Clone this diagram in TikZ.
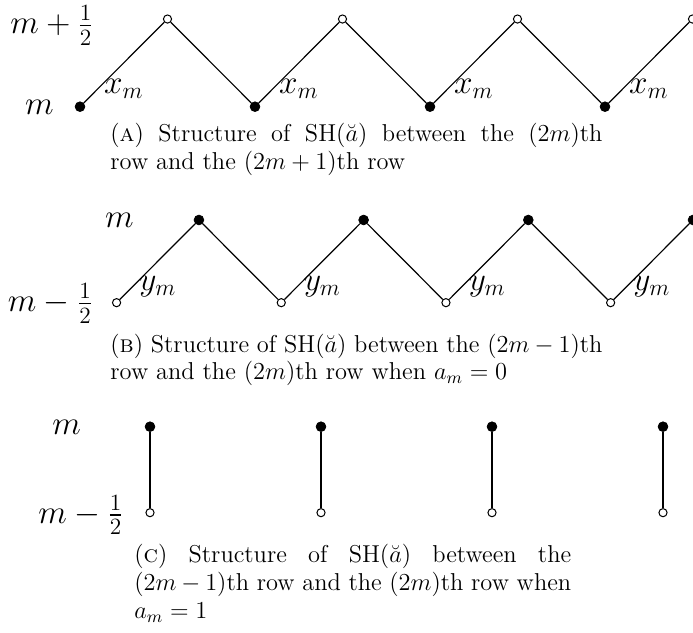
\RequirePackage{fix-cm}
\documentclass[tikz,border=0pt]{standalone}
\usepackage{amsmath}
\usepackage{amssymb}
\usetikzlibrary{calc, positioning}
\binoppenalty=10000

\begin{document}
\begin{tikzpicture}[
  fdot/.style={circle,fill=black,draw=black,inner sep=0pt,minimum size=0.185cm},
  odot/.style={circle,fill=white,draw=black,line width=0.55pt,inner sep=0pt,minimum size=0.155cm},
  zig/.style={line width=0.65pt},
  lab/.style={font=\fontsize{18}{21}\selectfont},
  rowlab/.style={lab,inner sep=1pt},
  capbox/.style={anchor=north west,inner sep=0pt,align=justify,font=\fontsize{13.2}{15}\selectfont}
]
\useasboundingbox (0,0) rectangle (13.167,12.027);

% (a) rows 2m and 2m+1
\node[fdot] (AbOne) at (1.52,10.00) {};
\node[fdot] (AbTwo) at (4.845,10.00) {};
\node[fdot] (AbThree) at (8.17,10.00) {};
\node[fdot] (AbFour) at (11.495,10.00) {};
\node[odot] (AtOne) at (3.1825,11.665) {};
\node[odot] (AtTwo) at (6.5075,11.665) {};
\node[odot] (AtThree) at (9.8325,11.665) {};
\node[odot] (AtFour) at (13.1575,11.665) {};
\draw[zig] (AbOne) -- node[lab,pos=0.17,right] (xOne) {$x_m$} (AtOne) -- (AbTwo)
  -- node[lab,pos=0.17,right] (xTwo) {$x_m$} (AtTwo) -- (AbThree)
  -- node[lab,pos=0.17,right] (xThree) {$x_m$} (AtThree) -- (AbFour)
  -- node[lab,pos=0.17,right] (xFour) {$x_m$} (AtFour);
\node[rowlab] (rowAup) at (0.988,11.54) {$m+\frac{1}{2}$};
\node[rowlab] (rowA) at (0.75,9.994) {$m$};
\node[capbox,text width=9.35cm] (capA) at (2.09,9.697)
  {(\textsc{a}) Structure of SH($\breve{a}$) between the $(2m)$th\linebreak row and the $(2m+1)$th row};

% (b) rows 2m-1 and 2m, a_m=0
\node[odot] (BbOne) at (2.215,6.276) {};
\node[odot] (BbTwo) at (5.344,6.276) {};
\node[odot] (BbThree) at (8.473,6.276) {};
\node[odot] (BbFour) at (11.602,6.276) {};
\node[fdot] (BtOne) at (3.780,7.847) {};
\node[fdot] (BtTwo) at (6.909,7.847) {};
\node[fdot] (BtThree) at (10.038,7.847) {};
\node[fdot] (BtFour) at (13.167,7.847) {};
\draw[zig] (BbOne) -- node[lab,pos=0.17,right] (yOne) {$y_m$} (BtOne) -- (BbTwo)
  -- node[lab,pos=0.17,right] (yTwo) {$y_m$} (BtTwo) -- (BbThree)
  -- node[lab,pos=0.17,right] (yThree) {$y_m$} (BtThree) -- (BbFour)
  -- node[lab,pos=0.17,right] (yFour) {$y_m$} (BtFour);
\node[rowlab] (rowB) at (2.27,7.847) {$m$};
\node[rowlab] (rowBdown) at (0.96,6.26) {$m-\frac{1}{2}$};
\node[capbox,text width=9.35cm] (capB) at (2.09,5.690)
  {(\textsc{b}) Structure of SH($\breve{a}$) between the $(2m-1)$th row and the $(2m)$th row when $a_m=0$};

% (c) rows 2m-1 and 2m, a_m=1
\node[fdot] (CtOne) at (2.85,3.920) {};
\node[fdot] (CtTwo) at (6.099,3.920) {};
\node[fdot] (CtThree) at (9.348,3.920) {};
\node[fdot] (CtFour) at (12.597,3.920) {};
\node[odot] (CbOne) at (2.85,2.286) {};
\node[odot] (CbTwo) at (6.099,2.286) {};
\node[odot] (CbThree) at (9.348,2.286) {};
\node[odot] (CbFour) at (12.597,2.286) {};
\draw[zig] (CtOne) -- (CbOne) (CtTwo) -- (CbTwo) (CtThree) -- (CbThree) (CtFour) -- (CbFour);
\node[rowlab] (rowC) at (1.264,3.914) {$m$};
\node[rowlab] (rowCdown) at (1.539,2.242) {$m-\frac{1}{2}$};
\node[capbox,text width=8.3cm] (capC) at (2.546,1.685)
  {(\textsc{c}) Structure of SH($\breve{a}$) between the $(2m-1)$th row and the $(2m)$th row when $a_m=1$};
\end{tikzpicture}
\end{document}
